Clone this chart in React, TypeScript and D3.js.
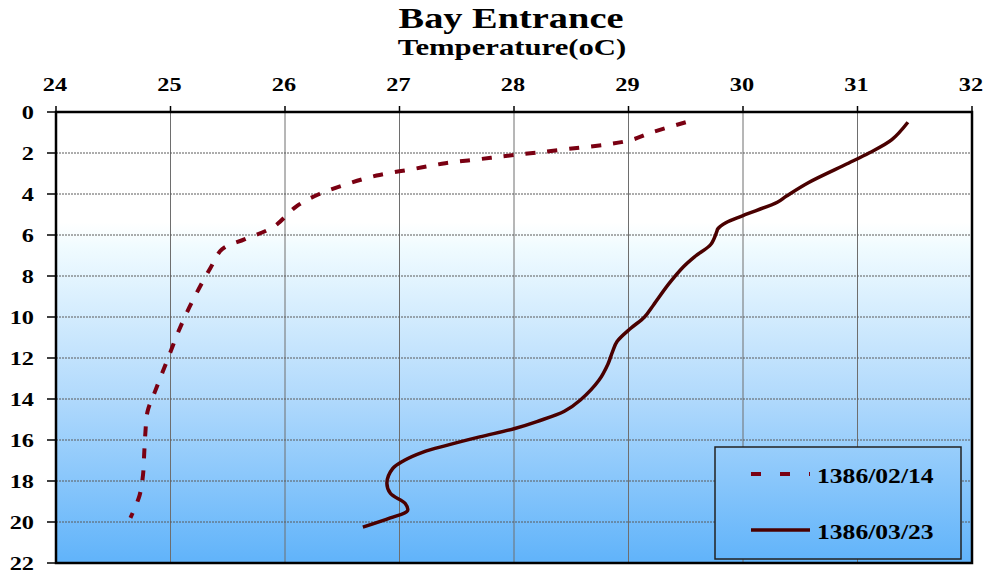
import React from "react";
import * as d3 from "d3";

// Temperature profiles: [temperature °C, depth m]
const feb14Temp = [29.5, 29.2, 29.0, 28.4, 28.0, 27.7, 27.4, 27.1, 26.8, 26.55, 26.3, 26.1, 25.9, 25.65, 25.45, 25.35, 25.25, 25.15, 25.07, 25.0, 24.93, 24.86, 24.8, 24.78, 24.77, 24.76, 24.73, 24.65];
const feb14Depth = [0.5, 1.0, 1.4, 1.85, 2.1, 2.3, 2.5, 2.8, 3.1, 3.5, 4.0, 4.6, 5.6, 6.2, 6.7, 7.6, 8.6, 9.7, 10.7, 11.7, 12.7, 13.7, 14.6, 15.7, 16.7, 17.7, 18.7, 19.8];

const mar23Temp = [31.44, 31.3, 31.1, 30.92, 30.57, 30.38, 30.3, 30.0, 29.85, 29.78, 29.77, 29.72, 29.58, 29.48, 29.35, 29.22, 29.14, 29.02, 28.9, 28.86, 28.82, 28.74, 28.58, 28.44, 28.2, 28.0, 27.7, 27.42, 27.2, 27.04, 26.94, 26.89, 26.92, 27.05, 27.07, 26.92, 26.68];
const mar23Depth = [0.5, 1.35, 2.0, 2.5, 3.45, 4.1, 4.4, 5.05, 5.4, 5.7, 5.85, 6.45, 7.05, 7.55, 8.4, 9.4, 10.0, 10.55, 11.2, 11.7, 12.3, 13.1, 14.05, 14.6, 15.1, 15.45, 15.85, 16.25, 16.6, 17.0, 17.4, 18.1, 18.6, 19.1, 19.45, 19.8, 20.25];

const tempTicks = [24, 25, 26, 27, 28, 29, 30, 31, 32];
const depthTicks = [0, 2, 4, 6, 8, 10, 12, 14, 16, 18, 20, 22];
const seriesLabels = ["1386/02/14", "1386/03/23"];

const W = 985;
const H = 573;
const left = 56, right = 972, top = 112, bottom = 563;
const FONT = "'Liberation Serif', 'Times New Roman', serif";
const SX = 1.28; // horizontal text stretch

export default function App() {
  const x = d3.scaleLinear().domain([24, 32]).range([left, right]);
  const y = d3.scaleLinear().domain([0, 22]).range([top, bottom]);

  const line = d3
    .line<[number, number]>()
    .x((d) => x(d[0]))
    .y((d) => y(d[1]))
    .curve(d3.curveCatmullRom.alpha(0.5));

  const febPts = feb14Temp.map((t, i) => [t, feb14Depth[i]] as [number, number]);
  const marPts = mar23Temp.map((t, i) => [t, mar23Depth[i]] as [number, number]);

  const lg = { x0: 715, y0: 447, x1: 961, y1: 559 };

  return (
    <svg
      width={W}
      height={H}
      style={{ position: "absolute", left: 0, top: 0, background: "#fff" }}
      fontFamily={FONT}
    >
      <defs>
        <linearGradient id="bg" gradientUnits="userSpaceOnUse" x1={0} y1={top} x2={0} y2={bottom}>
          <stop offset="0" stopColor="#ffffff" />
          <stop offset="0.245" stopColor="#ffffff" />
          <stop offset="0.3" stopColor="#f0fbff" />
          <stop offset="0.636" stopColor="#b0d9fc" />
          <stop offset="1" stopColor="#60b3fa" />
        </linearGradient>
      </defs>

      {/* Titles */}
      <text transform={`translate(511,28) scale(${SX},1)`} textAnchor="middle" fontWeight="bold" fontSize={30}>
        Bay Entrance
      </text>
      <text transform={`translate(512,55) scale(${SX},1)`} textAnchor="middle" fontWeight="bold" fontSize={24}>
        Temperature(oC)
      </text>

      {/* Plot background */}
      <rect x={left} y={top} width={right - left} height={bottom - top} fill="url(#bg)" />

      {/* Grid */}
      {tempTicks.map((t) => (
        <line key={"vx" + t} x1={x(t)} x2={x(t)} y1={top} y2={bottom} stroke="#6e6e6e" strokeWidth={1} />
      ))}
      {depthTicks.map((d) => (
        <line
          key={"hy" + d}
          x1={left}
          x2={right}
          y1={y(d)}
          y2={y(d)}
          stroke="#5a5a5a"
          strokeWidth={1}
          strokeDasharray="2,1"
        />
      ))}

      {/* Series */}
      <path d={line(febPts) || ""} fill="none" stroke="#7a0012" strokeWidth={4} strokeDasharray="10,12" />
      <path d={line(marPts) || ""} fill="none" stroke="#4a0000" strokeWidth={3.5} strokeLinejoin="round" />

      {/* Frame */}
      <rect x={left} y={top} width={right - left} height={bottom - top} fill="none" stroke="#000" strokeWidth={2.5} />

      {/* Top axis ticks and labels */}
      {tempTicks.map((t) => (
        <g key={"tx" + t}>
          <line x1={x(t)} x2={x(t)} y1={top - 6} y2={top} stroke="#000" strokeWidth={1.5} />
          <text transform={`translate(${x(t) - 1},91) scale(${SX},1)`} textAnchor="middle" fontWeight="bold" fontSize={19}>
            {t}
          </text>
        </g>
      ))}

      {/* Left axis ticks and labels */}
      {depthTicks.map((d) => (
        <g key={"ty" + d}>
          <line x1={left - 9} x2={left} y1={y(d)} y2={y(d)} stroke="#000" strokeWidth={1.5} />
          <text transform={`translate(34,${y(d) + 6.5}) scale(${SX},1)`} textAnchor="end" fontWeight="bold" fontSize={19}>
            {d}
          </text>
        </g>
      ))}

      {/* Legend */}
      <rect x={lg.x0} y={lg.y0} width={lg.x1 - lg.x0} height={lg.y1 - lg.y0} fill="url(#bg)" stroke="#222" strokeWidth={1.5} />
      <line x1={751} x2={810} y1={474} y2={474} stroke="#7a0012" strokeWidth={4} strokeDasharray="10,19" />
      <text transform={`translate(817,483) scale(${SX},1)`} fontWeight="bold" fontSize={20}>
        {seriesLabels[0]}
      </text>
      <line x1={751} x2={810} y1={530} y2={530} stroke="#4a0000" strokeWidth={3.5} />
      <text transform={`translate(817,539) scale(${SX},1)`} fontWeight="bold" fontSize={20}>
        {seriesLabels[1]}
      </text>
    </svg>
  );
}
